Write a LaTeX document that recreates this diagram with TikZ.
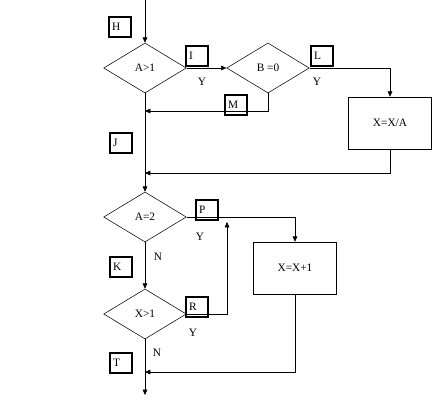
\documentclass[tikz,border=0pt]{standalone}
\usepackage{fontspec}
\setmainfont{Liberation Serif}
\usetikzlibrary{arrows.meta,shapes,positioning,calc}

\begin{document}
\begin{tikzpicture}[x=0.75pt, y=-0.75pt,
    font=\fontsize{8.5}{10}\selectfont,
    decision/.style={diamond, draw, inner sep=0pt, minimum width=62pt, minimum height=37.5pt},
    process/.style={rectangle, draw, inner sep=0pt, minimum width=62pt, minimum height=39pt},
    tag/.style={rectangle, draw, line width=1.7pt, inner sep=1pt, minimum width=16pt, minimum height=15pt, align=left, text width=12pt},
    arr/.style={-{Triangle[length=4pt, width=3.5pt]}}]
    \useasboundingbox (0,0) rectangle (434,401);

    % decisions and actions
    \node[decision] (agt) at (145,68) {A>1};
    \node[decision] (beq) at (268,68) {B =0};
    \node[process] (div) at (390,123) {X=X/A};
    \node[decision] (aeq) at (145,217) {A=2};
    \node[process] (inc) at (295,268) {X=X+1};
    \node[decision] (xgt) at (145,314) {X>1};

    % free ends
    \coordinate (start) at (145,0);
    \coordinate (stop) at (145,395);
    \coordinate (jm) at (145,111);
    \coordinate (jx) at (145,173);
    \coordinate (jt) at (145,372);
    \coordinate (back) at (227,222);

    % flow
    \draw[arr] (start) -- (agt.north);
    \draw[arr] (agt.east) -- (beq.west);
    \draw[arr] (agt.south) -- (aeq.north);
    \draw[arr] (beq.south) |- (jm);
    \draw[arr] (beq.east) -| (div.north);
    \draw[arr] (div.south) |- (jx);
    \draw[arr] (aeq.south) -- (xgt.north);
    \draw[arr] (aeq.east) -| (inc.north);
    \draw[arr] (xgt.east) -| (back);
    \draw[arr] (inc.south) |- (jt);
    \draw[arr] (xgt.south) -- (stop);

    % branch labels
    \node (y1) at (202,82) {Y};
    \node (y2) at (317,82) {Y};
    \node (y3) at (200,237) {Y};
    \node (n1) at (158,257) {N};
    \node (y4) at (193,333) {Y};
    \node (n2) at (157,353) {N};

    % point tags
    \node[tag] (H) at (120,27) {H};
    \node[tag] (I) at (197,56) {I};
    \node[tag] (L) at (322,56) {L};
    \node[tag] (M) at (236,105) {M};
    \node[tag] (J) at (121,143) {J};
    \node[tag] (P) at (207,210) {P};
    \node[tag] (K) at (121,267) {K};
    \node[tag] (R) at (197,307) {R};
    \node[tag] (T) at (121,363) {T};
\end{tikzpicture}
\end{document}
